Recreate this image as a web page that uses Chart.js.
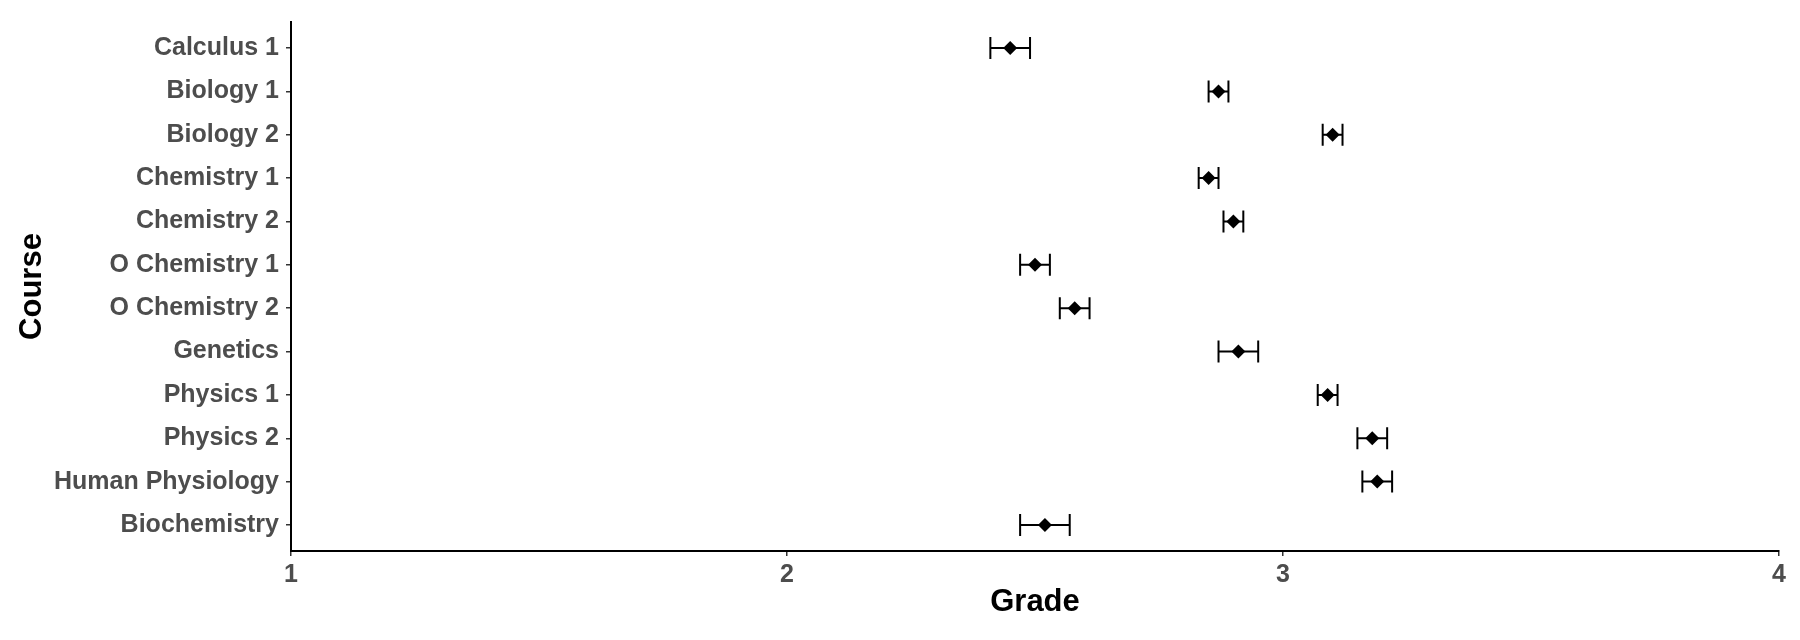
<!DOCTYPE html>
<html>
<head>
<meta charset="utf-8">
<script src="https://cdn.jsdelivr.net/npm/chart.js@4"></script>
<style>
  body { margin: 0; background: #fff; }
  #wrap { width: 1800px; height: 640px; }
</style>
</head>
<body>
<div id="wrap"><canvas id="chart" width="1800" height="640"></canvas></div>
<script>
// Course grade means with error bar ends
const courses = ['Calculus 1', 'Biology 1', 'Biology 2', 'Chemistry 1', 'Chemistry 2', 'O Chemistry 1',
    'O Chemistry 2', 'Genetics', 'Physics 1', 'Physics 2', 'Human Physiology', 'Biochemistry'];
const means = [2.45, 2.87, 3.10, 2.85, 2.90, 2.50, 2.58, 2.91, 3.09, 3.18, 3.19, 2.52];
const lows = [2.41, 2.85, 3.08, 2.83, 2.88, 2.47, 2.55, 2.87, 3.07, 3.15, 3.16, 2.47];
const highs = [2.49, 2.89, 3.12, 2.87, 2.92, 2.53, 2.61, 2.95, 3.11, 3.21, 3.22, 2.57];
const gradeTicks = [1, 2, 3, 4];

const FONT = "'Liberation Sans', Arial, Helvetica, sans-serif";

// draw horizontal error bars with caps
const errorBars = {
    id: 'errorBars',
    beforeDatasetsDraw(chart) {
        const { ctx, scales: { x, y } } = chart;
        ctx.save();
        ctx.strokeStyle = '#000';
        ctx.lineWidth = 2;
        courses.forEach((c, i) => {
            const py = y.getPixelForValue(i);
            const x0 = x.getPixelForValue(lows[i]);
            const x1 = x.getPixelForValue(highs[i]);
            ctx.beginPath();
            ctx.moveTo(x0, py);
            ctx.lineTo(x1, py);
            ctx.moveTo(x0, py - 11);
            ctx.lineTo(x0, py + 11);
            ctx.moveTo(x1, py - 11);
            ctx.lineTo(x1, py + 11);
            ctx.stroke();
        });
        ctx.restore();
    }
};

new Chart(document.getElementById('chart'), {
    type: 'scatter',
    data: {
        datasets: [{
            data: means.map((m, i) => ({ x: m, y: i })),
            pointStyle: 'rectRot',
            pointRadius: 7,
            pointHoverRadius: 7,
            backgroundColor: '#000',
            borderColor: '#000',
            borderWidth: 0
        }]
    },
    options: {
        responsive: false,
        animation: false,
        layout: { padding: { left: 0, top: 21, right: 21, bottom: 0 } },
        plugins: { legend: { display: false }, tooltip: { enabled: false } },
        scales: {
            x: {
                type: 'linear',
                min: 1,
                max: 4,
                afterBuildTicks: s => { s.ticks = gradeTicks.map(v => ({ value: v })); },
                afterFit: s => { s.height = 89; },
                grid: { drawOnChartArea: false, tickLength: 5, color: '#333', lineWidth: 1.5 },
                border: { color: '#000', width: 2 },
                ticks: { color: '#4d4d4d', padding: 4, font: { family: FONT, size: 25, weight: 'bold' } },
                title: {
                    display: true, text: 'Grade', color: '#000',
                    padding: { top: 0, bottom: 19 },
                    font: { family: FONT, size: 31, weight: 'bold' }
                }
            },
            y: {
                type: 'linear',
                reverse: true,
                min: -0.6,
                max: 11.6,
                afterBuildTicks: s => { s.ticks = courses.map((c, i) => ({ value: i })); },
                afterFit: s => { s.width = 291; },
                grid: { drawOnChartArea: false, tickLength: 5, color: '#333', lineWidth: 1.5 },
                border: { color: '#000', width: 2 },
                ticks: {
                    color: '#4d4d4d', padding: 7,
                    font: { family: FONT, size: 25, weight: 'bold' },
                    callback: v => courses[v]
                },
                title: {
                    display: true, text: 'Course', color: '#000',
                    padding: { top: 14, bottom: 0 },
                    font: { family: FONT, size: 31, weight: 'bold' }
                }
            }
        }
    },
    plugins: [errorBars]
});
</script>
</body>
</html>
